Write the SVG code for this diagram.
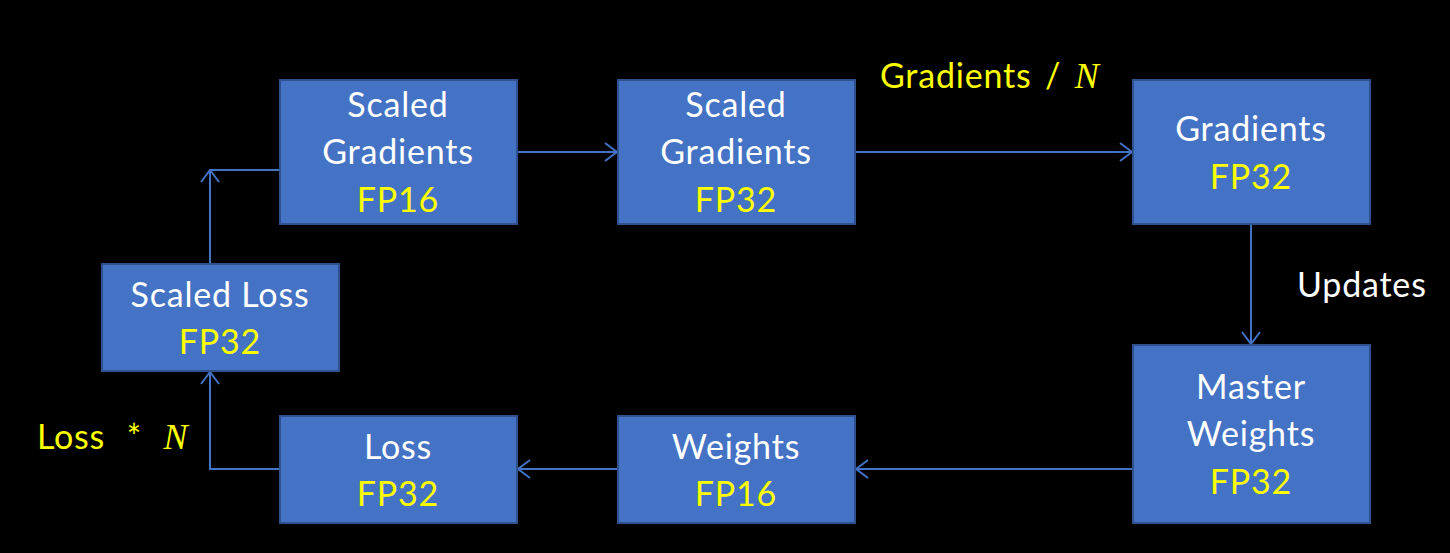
<svg xmlns="http://www.w3.org/2000/svg" width="1450" height="553" viewBox="0 0 1450 553">
<defs>
<style>
.box{fill:#4472C4;stroke:#2F528F;stroke-width:2}
.t{font-family:Lato,"Noto Sans",sans-serif;font-size:34px;letter-spacing:0.8px;text-anchor:middle}
.w{fill:#FFFFFF}
.y{fill:#FFFF00}
.lbl{font-family:Lato,"Noto Sans",sans-serif;font-size:34px;letter-spacing:0.8px}
.m{font-family:"Liberation Serif",serif;font-style:italic;font-size:36px}
.c{fill:none;stroke:#4472C4;stroke-width:2}
</style>
<marker id="ah" viewBox="0 0 14 20" refX="13" refY="10" markerWidth="14" markerHeight="20" markerUnits="userSpaceOnUse" orient="auto">
<polyline points="1,1 13,10 1,19" fill="none" stroke="#4472C4" stroke-width="2"/>
</marker>
</defs>
<rect width="1450" height="553" fill="#000000"/>
<g id="connectors">
<line class="c" x1="518" y1="152" x2="617" y2="152" marker-end="url(#ah)"/>
<line class="c" x1="856" y1="152" x2="1132" y2="152" marker-end="url(#ah)"/>
<line class="c" x1="1251" y1="225" x2="1251" y2="344" marker-end="url(#ah)"/>
<line class="c" x1="1132" y1="469" x2="856" y2="469" marker-end="url(#ah)"/>
<line class="c" x1="617" y1="469" x2="518" y2="469" marker-end="url(#ah)"/>
<path class="c" d="M279,469 H210 V372" marker-end="url(#ah)"/>
<path class="c" d="M210,263 V170" marker-end="url(#ah)"/>
<path class="c" d="M210,170 H279"/>
</g>
<g id="scaled-grad-fp16">
<rect class="box" x="280" y="80" width="237" height="144"/>
<text class="t w" x="398" y="117">Scaled</text>
<text class="t w" x="398" y="164">Gradients</text>
<text class="t y" x="398" y="212">FP16</text>
</g>
<g id="scaled-grad-fp32">
<rect class="box" x="618" y="80" width="237" height="144"/>
<text class="t w" x="736" y="117">Scaled</text>
<text class="t w" x="736" y="164">Gradients</text>
<text class="t y" x="736" y="212">FP32</text>
</g>
<g id="gradients-fp32">
<rect class="box" x="1133" y="80" width="237" height="144"/>
<text class="t w" x="1251" y="141">Gradients</text>
<text class="t y" x="1251" y="189">FP32</text>
</g>
<g id="master-weights">
<rect class="box" x="1133" y="345" width="237" height="178"/>
<text class="t w" x="1251" y="399">Master</text>
<text class="t w" x="1251" y="446">Weights</text>
<text class="t y" x="1251" y="494">FP32</text>
</g>
<g id="weights-fp16">
<rect class="box" x="618" y="416" width="237" height="107"/>
<text class="t w" x="736" y="459">Weights</text>
<text class="t y" x="736" y="506">FP16</text>
</g>
<g id="loss-fp32">
<rect class="box" x="280" y="416" width="237" height="107"/>
<text class="t w" x="398" y="459">Loss</text>
<text class="t y" x="398" y="506">FP32</text>
</g>
<g id="scaled-loss">
<rect class="box" x="102" y="264" width="237" height="107"/>
<text class="t w" x="220" y="307">Scaled Loss</text>
<text class="t y" x="220" y="354">FP32</text>
</g>
<g id="labels">
<text class="lbl y" x="880" y="88">Gradients <tspan dx="4">/</tspan> <tspan class="m" dx="4">N</tspan></text>
<text class="lbl y" x="37" y="449">Loss <tspan dx="12">*</tspan> <tspan class="m" dx="12">N</tspan></text>
<text class="lbl w" x="1297" y="297">Updates</text>
</g>
</svg>
